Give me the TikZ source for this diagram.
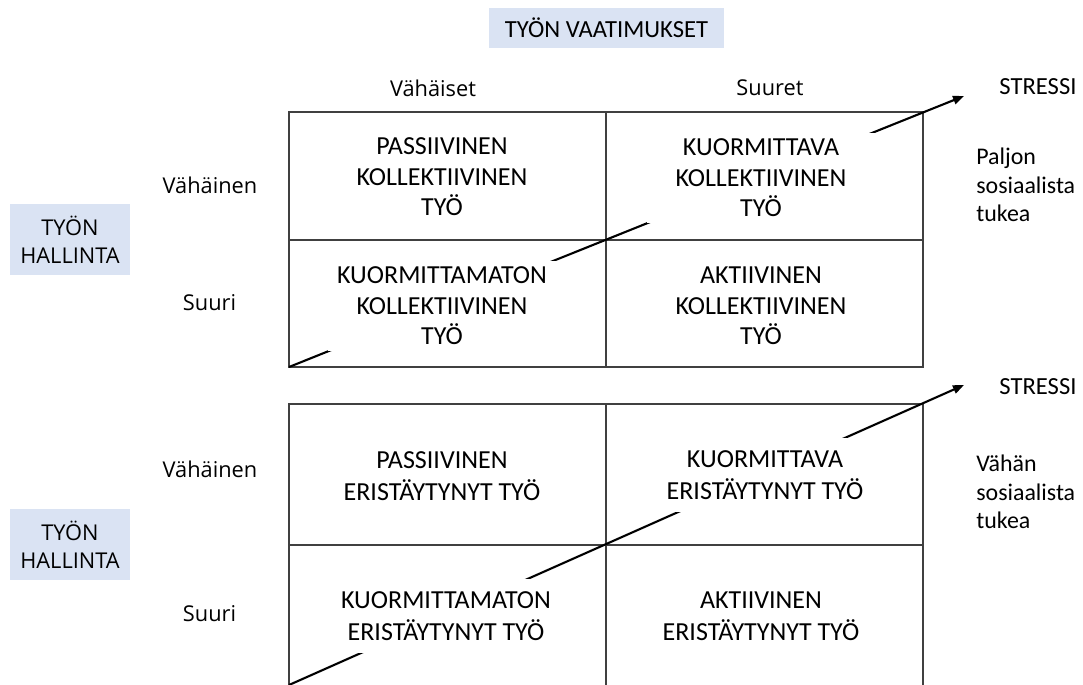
\documentclass[tikz,border=0pt]{standalone}
\usepackage{fontspec}
\setmainfont{Carlito}
\newfontfamily\labelfont{Open Sans}
\usetikzlibrary{arrows.meta}
\definecolor{headblue}{HTML}{DAE3F3}
\definecolor{gridgray}{HTML}{404040}

\begin{document}
\begin{tikzpicture}
            [x=0.02cm, y=-0.02cm, >={Triangle[length=2.2mm, width=1.7mm]},
             cell/.style={fill=white, align=center, inner sep=0pt, font=\fontsize{14.8}{17.3}\selectfont},
             bigcell/.style={cell, minimum width=4.56cm, minimum height=1.82cm},
             smallcell/.style={cell, minimum width=3.2cm, minimum height=1.48cm, font=\fontsize{14.8}{18.2}\selectfont},
             axislabel/.style={align=center, font=\labelfont\fontsize{12.4}{16}\selectfont},
             headbox/.style={fill=headblue, inner sep=0pt},
             sidetext/.style={align=left, anchor=west, inner sep=0pt, font=\fontsize{13.6}{16.2}\selectfont}]
            \clip (0,0) rectangle (1083,684);

            % headers
            \node[headbox, minimum width=4.7cm, minimum height=0.8cm, font=\fontsize{14}{17}\selectfont] (demands) at (606.5,28) {TYÖN VAATIMUKSET};
            \node[axislabel, anchor=base] (low) at (433,96) {Vähäiset};
            \node[axislabel, anchor=base] (high) at (770,95) {Suuret};

            % upper grid
            \draw[gridgray, thick] (289,112) rectangle (923,367);
            \draw[gridgray, thick] (606,112) -- (606,367);
            \draw[gridgray, thick] (289,240) -- (923,240);
            \coordinate (start1) at (289,367);
            \coordinate (tip1) at (964,96);
            \draw[->, very thick] (start1) -- (tip1);

            \node[bigcell] (pass1) at (442,177) {PASSIIVINEN\\KOLLEKTIIVINEN\\TYÖ};
            \node[bigcell] (load1) at (761,178) {KUORMITTAVA\\KOLLEKTIIVINEN\\TYÖ};
            \node[bigcell] (free1) at (442,306) {KUORMITTAMATON\\KOLLEKTIIVINEN\\TYÖ};
            \node[bigcell] (act1) at (761,306) {AKTIIVINEN\\KOLLEKTIIVINEN\\TYÖ};

            \node[headbox, minimum width=2.4cm, minimum height=1.42cm, axislabel] (ctrl1) at (70,239.5) {TYÖN\\HALLINTA};
            \node[axislabel] (little1) at (210,185) {Vähäinen};
            \node[axislabel] (much1) at (209.5,303) {Suuri};
            \node[cell, fill=none, font=\fontsize{14}{17}\selectfont] (stress1) at (1038,87) {STRESSI};
            \node[sidetext] (support1) at (976,185) {Paljon\\sosiaalista\\tukea};

            % lower grid
            \draw[gridgray, thick] (289,685) -- (289,404) -- (923,404) -- (923,685);
            \draw[gridgray, thick] (606,404) -- (606,685);
            \draw[gridgray, thick] (289,545) -- (923,545);
            \coordinate (start2) at (289,685);
            \coordinate (tip2) at (964,385);
            \draw[->, very thick] (start2) -- (tip2);

            \node[smallcell] (pass2) at (442,476) {PASSIIVINEN\\ERISTÄYTYNYT TYÖ};
            \node[smallcell] (load2) at (765,475) {KUORMITTAVA\\ERISTÄYTYNYT TYÖ};
            \node[smallcell] (free2) at (446,616) {KUORMITTAMATON\\ERISTÄYTYNYT TYÖ};
            \node[smallcell] (act2) at (761,616) {AKTIIVINEN\\ERISTÄYTYNYT TYÖ};

            \node[headbox, minimum width=2.4cm, minimum height=1.42cm, axislabel] (ctrl2) at (70,544.5) {TYÖN\\HALLINTA};
            \node[axislabel] (little2) at (210,469) {Vähäinen};
            \node[axislabel] (much2) at (209.5,614) {Suuri};
            \node[cell, fill=none, font=\fontsize{14}{17}\selectfont] (stress2) at (1038,387) {STRESSI};
            \node[sidetext] (support2) at (976,492) {Vähän\\sosiaalista\\tukea};
        \end{tikzpicture}
\end{document}
